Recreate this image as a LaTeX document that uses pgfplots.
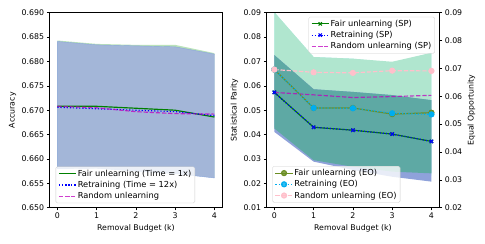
\documentclass[border=0pt]{standalone}
\usepackage{fontspec}
\setmainfont{DejaVu Sans}
\usepackage{pgfplots}
\pgfplotsset{compat=1.18}
\definecolor{bandblue}{HTML}{A3B6D8}
\definecolor{bandblueedge}{HTML}{8AA6DC}
\definecolor{bandgreen}{HTML}{B9E2B9}
\definecolor{eogreen}{HTML}{B0E6CF}
\definecolor{eocyan}{HTML}{B4F0F0}
\definecolor{spteal}{HTML}{5EA9A4}
\definecolor{spblue}{HTML}{8FA2DA}
\definecolor{mplgreen}{HTML}{008000}
\definecolor{mplmag}{HTML}{BF00BF}
\definecolor{olive}{HTML}{6B8E23}
\definecolor{pinkc}{HTML}{FFC0CB}
\pgfplotsset{
  common/.style={scale only axis, width=221.2pt, height=249.6pt,
    xmin=-0.2, xmax=4.2, xtick={0,1,2,3,4},
    tick align=outside, major tick length=3.5pt,
    every tick/.style={black, line width=0.8pt},
    axis line style={line width=0.8pt},
    scaled y ticks=false,
    tick label style={font=\fontsize{10}{12}\selectfont},
    label style={font=\fontsize{10}{12}\selectfont},
    /pgf/number format/assume math mode=true},
  legstyle/.style={legend cell align=left,
    legend style={draw=black!20, rounded corners=2pt, fill=white, fill opacity=0.8, text opacity=1,
      font=\fontsize{10.6}{12.7}\selectfont, inner xsep=3pt, inner ysep=2.5pt, row sep=1.6pt,
      nodes={inner sep=1.6pt}},
    legend image code/.code={\draw[mark repeat=2,mark phase=2,##1] plot coordinates {(0pt,0pt) (11pt,0pt) (22pt,0pt)};}},
  dotl/.style={dash pattern=on 1.5pt off 2.5pt},
  dashl/.style={dash pattern=on 5.5pt off 2.4pt},
}
\begin{document}
\begin{tikzpicture}
\useasboundingbox (0,0) rectangle (620.8pt,311.04pt);
% ---------- left chart ----------
\begin{axis}[common, legstyle, at={(63.36pt,45.18pt)}, anchor=south west,
  ymin=0.65, ymax=0.69,
  ytick={0.650,0.655,0.660,0.665,0.670,0.675,0.680,0.685,0.690},
  yticklabels={0.650,0.655,0.660,0.665,0.670,0.675,0.680,0.685,0.690},
  tick pos=left, ylabel={Accuracy}, xlabel={Removal Budget (k)},
  legend style={at={(0.036,0.023)}, anchor=south west}]
\addplot[fill=bandgreen, draw=none, forget plot] coordinates {(0,0.6843)(1,0.6836)(2,0.6834)(3,0.6834)(4,0.6817)(4,0.6562)(3,0.6570)(2,0.6575)(1,0.6581)(0,0.6580)} -- cycle;
\addplot[fill=bandblue, draw=bandblueedge, line width=0.5pt, forget plot] coordinates {(0,0.6841)(1,0.6834)(2,0.6832)(3,0.6830)(4,0.6815)(4,0.6561)(3,0.6570)(2,0.6575)(1,0.6581)(0,0.6580)} -- cycle;
\addplot[mplgreen, line width=1.5pt] coordinates {(0,0.6708)(1,0.6708)(2,0.6704)(3,0.6700)(4,0.6686)};
\addlegendentry{Fair unlearning (Time = 1x)}
\addplot[blue, line width=1.5pt, dotl] coordinates {(0,0.6706)(1,0.6703)(2,0.6700)(3,0.6697)(4,0.6689)};
\addlegendentry{Retraining (Time = 12x)}
\addplot[mplmag, opacity=0.75, line width=1.5pt, dashl] coordinates {(0,0.6708)(1,0.6705)(2,0.6697)(3,0.6693)(4,0.6692)};
\addlegendentry{Random unlearning}
\end{axis}
% ---------- right chart: EO bands ----------
\begin{axis}[common, at={(341.12pt,45.18pt)}, anchor=south west,
  ymin=0.02, ymax=0.09, hide axis]
\addplot[fill=eocyan, draw=none] coordinates {(0,0.0902)(1,0.0741)(2,0.0735)(3,0.0720)(4,0.0756)(4,0.0315)(3,0.0355)(2,0.0379)(1,0.0375)(0,0.0490)} -- cycle;
\addplot[fill=eogreen, draw=none] coordinates {(0,0.0902)(1,0.0741)(2,0.0735)(3,0.0724)(4,0.0756)(4,0.0326)(3,0.0349)(2,0.0381)(1,0.0375)(0,0.0490)} -- cycle;
\end{axis}
% ---------- right chart: SP ----------
\begin{axis}[common, legstyle, at={(341.12pt,45.18pt)}, anchor=south west,
  ymin=0.01, ymax=0.09,
  ytick={0.01,0.02,0.03,0.04,0.05,0.06,0.07,0.08,0.09},
  yticklabels={0.01,0.02,0.03,0.04,0.05,0.06,0.07,0.08,0.09},
  axis y line*=left, xtick pos=left,
  ylabel={Statistical Parity}, xlabel={Removal Budget (k)},
  legend style={at={(0.975,0.979)}, anchor=north east}]
\addplot[fill=spblue, draw=none, forget plot] coordinates {(0,0.0726)(1,0.0586)(2,0.0575)(3,0.0562)(4,0.0541)(4,0.0207)(3,0.0227)(2,0.0255)(1,0.0289)(0,0.0411)} -- cycle;
\addplot[fill=spteal, draw=none, forget plot] coordinates {(0,0.0726)(1,0.0586)(2,0.0575)(3,0.0562)(4,0.0541)(4,0.0241)(3,0.0248)(2,0.0268)(1,0.0295)(0,0.0425)} -- cycle;
\addplot[mplgreen, line width=1.5pt, mark=x, mark size=3pt, mark options={solid}] coordinates {(0,0.0573)(1,0.0430)(2,0.0418)(3,0.0402)(4,0.0372)};
\addlegendentry{Fair unlearning (SP)}
\addplot[blue, line width=1.5pt, dotl, mark=x, mark size=3pt, mark options={solid}] coordinates {(0,0.0573)(1,0.0430)(2,0.0418)(3,0.0402)(4,0.0372)};
\addlegendentry{Retraining (SP)}
\addplot[mplmag, opacity=0.75, line width=1.5pt, dashl] coordinates {(0,0.0573)(1,0.0563)(2,0.0552)(3,0.0556)(4,0.0561)};
\addlegendentry{Random unlearning (SP)}
\end{axis}
% ---------- right chart: EO lines ----------
\begin{axis}[common, legstyle, at={(341.12pt,45.18pt)}, anchor=south west,
  ymin=0.02, ymax=0.09,
  ytick={0.02,0.03,0.04,0.05,0.06,0.07,0.08,0.09},
  yticklabels={0.02,0.03,0.04,0.05,0.06,0.07,0.08,0.09},
  axis y line*=right, axis x line=none, ylabel near ticks,
  ylabel={Equal Opportunity},
  legend style={at={(0.034,0.026)}, anchor=south west}]
\addplot[olive, line width=1.5pt, mark=*, mark size=3.2pt, mark options={solid}] coordinates {(0,0.0696)(1,0.0558)(2,0.0558)(3,0.0536)(4,0.0541)};
\addlegendentry{Fair unlearning (EO)}
\addplot[cyan, line width=1.5pt, dotl, mark=*, mark size=3.2pt, mark options={solid}] coordinates {(0,0.0696)(1,0.0558)(2,0.0557)(3,0.0539)(4,0.0535)};
\addlegendentry{Retraining (EO)}
\addplot[pinkc, line width=1.5pt, dashl, mark=*, mark size=3.2pt, mark options={solid}] coordinates {(0,0.0696)(1,0.0686)(2,0.0684)(3,0.0692)(4,0.0691)};
\addlegendentry{Random unlearning (EO)}
\end{axis}
\end{tikzpicture}
\end{document}
